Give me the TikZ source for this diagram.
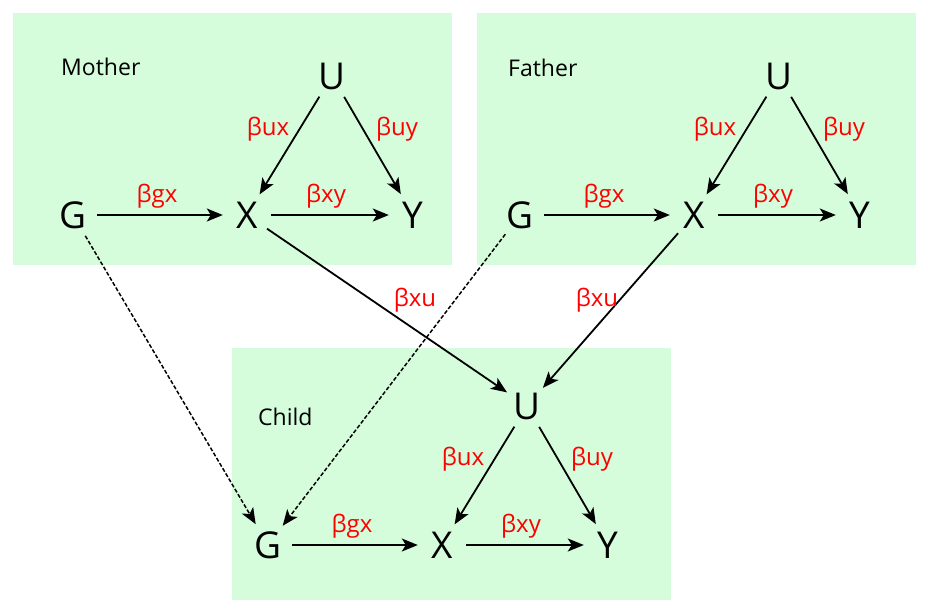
\documentclass[tikz,border=0pt]{standalone}
\usepackage{fontspec}
\setmainfont{Open Sans}
\usetikzlibrary{arrows.meta}
\definecolor{panelgreen}{RGB}{213,253,220}
\begin{document}
\begin{tikzpicture}[x=1pt,y=-1pt]
       \tikzstyle{panel}=[fill=panelgreen]
       \tikzstyle{var}=[circle, inner sep=0pt, minimum size=48pt, font=\fontsize{37}{40}\selectfont]
       \tikzstyle{coef}=[inner sep=0pt, text=red, font=\fontsize{24}{26}\selectfont]
       \tikzstyle{who}=[anchor=west, inner sep=0pt, font=\fontsize{23}{26}\selectfont]
       \tikzstyle{link}=[draw, line width=1.8pt, -{Stealth[length=16pt,width=13pt,inset=4pt]}]
       \tikzstyle{gene}=[link, line width=1.5pt, dash pattern=on 4pt off 2pt]
       \useasboundingbox (0,0) rectangle (928,614);
       % the three families
       \fill[panel] (13,13) rectangle (452,265);
       \fill[panel] (477,13) rectangle (916,265);
       \fill[panel] (232,348) rectangle (671,600);
       \foreach \p/\x/\y/\lx/\ly/\who in {m/73/215/61/67/Mother, f/520/215/508/68/Father, c/268/545/258/417/Child} {
        \node[who] (\p-name) at (\lx,\ly) {\who};
        \node[var] (\p-G) at (\x,\y) {G};
        \node[var] (\p-X) at (\x+174,\y) {X};
        \node[var] (\p-Y) at (\x+340,\y) {Y};
        \node[var] (\p-U) at (\x+259,\y-139) {U};
        \draw[link] (\p-G) -- (\p-X);
        \draw[link] (\p-X) -- (\p-Y);
        \draw[link] (\p-U) -- (\p-X);
        \draw[link] (\p-U) -- (\p-Y);
        \node[coef] (\p-gx) at (\x+84,\y-19) {βgx};
        \node[coef] (\p-xy) at (\x+253,\y-19) {βxy};
        \node[coef] (\p-ux) at (\x+195,\y-86) {βux};
        \node[coef] (\p-uy) at (\x+324,\y-86) {βuy};
       }
       % parents to child
       \draw[link] (m-X) -- (c-U);
       \draw[link] (f-X) -- (c-U);
       \node[coef] (m-xu) at (415,300) {βxu};
       \node[coef] (f-xu) at (597,300) {βxu};
       \draw[gene] (m-G) -- (c-G);
       \draw[gene] (f-G) -- (c-G);
      \end{tikzpicture}
\end{document}
